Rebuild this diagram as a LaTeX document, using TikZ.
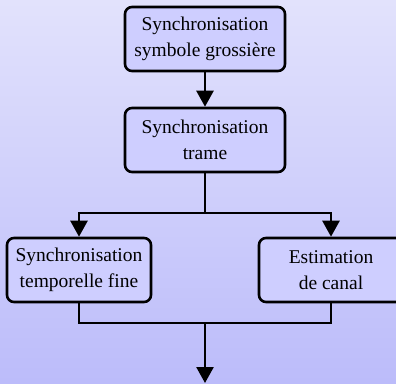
\documentclass[tikz,border=0pt]{standalone}
\usepackage{fontspec}
\setmainfont{Liberation Serif}
\usetikzlibrary{arrows.meta}
\definecolor{bgtop}{RGB}{226,226,252}
\definecolor{bgbot}{RGB}{188,188,250}
\definecolor{boxfill}{RGB}{206,206,255}
\tikzset{
  blockbox/.style={draw=black, line width=2.6pt, rounded corners=7pt, fill=boxfill,
    minimum height=64pt, align=center, inner sep=0pt,
    font=\fontsize{19.5}{25.5}\selectfont},
  conn/.style={line width=2.6pt},
  arr/.style={conn, -{Triangle[length=16pt,width=17pt]}}
}
\begin{document}
\begin{tikzpicture}[x=1pt,y=-1pt]
\useasboundingbox (0,0) rectangle (396,383);
\clip (0,0) rectangle (396,383);
\shade[top color=bgtop, bottom color=bgbot] (0,0) rectangle (396,383);
\node[blockbox, minimum width=160pt] (b1) at (205,39) {Synchronisation\\symbole grossière};
\node[blockbox, minimum width=160pt] (b2) at (205,140) {Synchronisation\\trame};
\node[blockbox, minimum width=144pt] (b3) at (79,270) {Synchronisation\\temporelle fine};
\node[blockbox, minimum width=144pt] (b4) at (331,270) {Estimation\\de canal};
\coordinate (split) at (205,213);
\coordinate (join) at (205,323);
\coordinate (out) at (205,383);
\draw[arr] (b1) -- (b2);
\draw[conn] (b2.south) -- (split);
\draw[arr] (split) -| (b3.north);
\draw[arr] (split) -| (b4.north);
\draw[conn] (b3.south) |- (join) -| (b4.south);
\draw[arr] (join) -- (out);
\end{tikzpicture}
\end{document}
